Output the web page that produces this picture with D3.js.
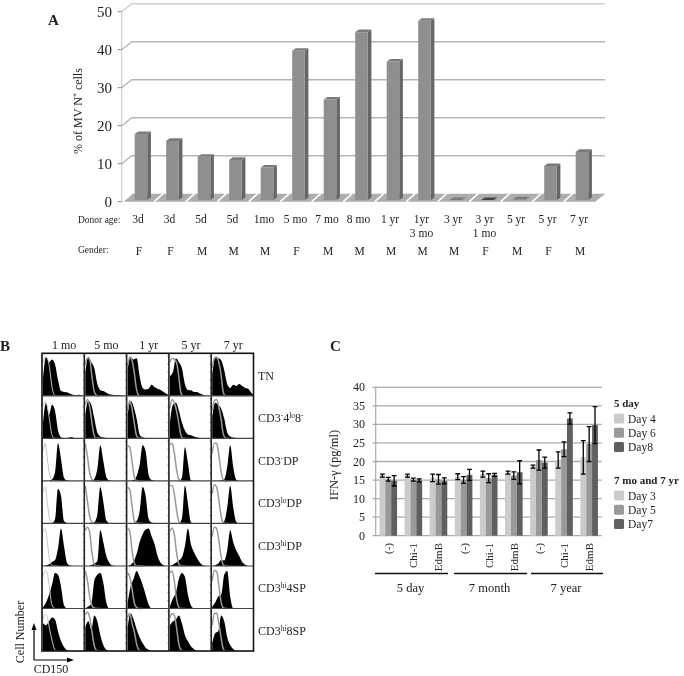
<!DOCTYPE html>
<html><head><meta charset="utf-8">
<script src="https://cdn.jsdelivr.net/npm/d3@7"></script>
<style>
html,body{margin:0;padding:0;background:#fff}
svg{display:block;filter:blur(.4px)}
text{font-family:"Liberation Serif",serif;fill:#222}
</style></head><body>
<svg id="c" width="684" height="676"></svg>
<script>
// Panel A
const donorAges=["3d","3d","5d","5d","1mo","5 mo","7 mo","8 mo","1 yr","1yr|3 mo","3 yr","3 yr|1 mo","5 yr","5 yr","7 yr"];
const genders=["F","F","M","M","M","F","M","M","M","M","M","F","M","F","M"];
const pctMVN=[17.8,16,11.8,11,9,39.7,26.9,44.6,36.9,47.6,0.25,0.1,0.6,9.4,13.1];
const pctTicks=[0,10,20,30,40,50];
// Panel B
const ageCols=["1 mo","5 mo","1 yr","5 yr","7 yr"];
const subsetRows=[["TN"],["CD3","-","4","lo","8","-"],["CD3","-","DP"],["CD3","lo","DP"],["CD3","hi","DP"],["CD3","hi","4SP"],["CD3","hi","8SP"]];
const histTN=[[45,98,85,92,80,40,12,10,9,5,3,2,3,1,0],[60,98,85,70,30,15,12,8,4,3,2,2,1,0,0],[70,98,92,95,50,20,16,18,28,22,18,15,10,5,0],[50,60,95,85,70,30,15,14,10,10,6,3,0,0,0],[55,95,95,90,65,30,20,28,25,30,25,20,18,8,0]];
const histLo=[[40,90,60,85,70,20,3,0,0,3,2,0,0,0,0],[60,95,85,50,15,5,2,1,0,0,0,0,0,0,0],[60,95,80,50,10,3,1,0,0,0,0,0,0,0,0],[40,85,90,70,40,20,10,8,5,3,1,0,0,0,0],[55,90,85,75,50,15,5,2,1,0,0,0,0,0,0]];
const histNeg=[[0,0,0,4,22,95,55,8,1,0,0,0,0,0,0],[0,0,0,5,30,90,50,10,1,0,0,0,0,0,0],[0,0,2,12,40,90,75,15,2,0,0,0,0,0,0],[0,0,0,0,8,85,45,1,0,0,0,0,0,0,0],[0,0,0,1,4,35,90,35,3,0,0,0,0,0,0]];
const histLoDP=[[0,0,0,1,10,88,70,6,1,0,0,0,0,0,0],[0,0,0,3,22,92,55,8,1,0,0,0,0,0,0],[0,0,1,6,30,92,70,12,2,0,0,0,0,0,0],[0,0,0,1,12,95,50,3,0,0,0,0,0,0,0],[0,0,0,0,5,40,95,40,4,0,0,0,0,0,0]];
const histHiDP=[[0,1,4,10,15,45,95,50,8,1,0,0,0,0,0],[0,0,2,6,12,90,60,25,8,1,0,0,0,0,0],[0,3,12,30,60,80,92,95,75,55,25,8,2,0,0],[0,3,8,14,22,50,95,55,35,20,8,2,0,0,0],[0,2,6,15,14,40,90,60,40,25,10,3,0,0,0]];
const hist4SP=[[3,15,35,60,90,85,55,8,0,0,0,0,0,0,0],[0,5,12,70,85,90,65,15,0,0,0,0,0,0,0],[15,55,75,95,80,60,35,10,0,0,0,0,0,0,0],[5,25,40,75,90,80,35,8,0,0,0,0,0,0,0],[5,15,30,35,85,95,30,0,0,0,0,0,0,0,0]];
const hist8SP=[[70,65,75,85,80,50,25,10,2,0,0,0,0,0,0],[60,75,55,90,75,40,15,3,0,0,0,0,0,0,0],[60,95,80,55,35,20,8,3,0,0,0,0,0,0,0],[65,75,80,90,70,40,25,12,5,0,0,0,0,0,0],[20,45,50,90,75,35,15,5,0,0,0,0,0,0,0]];
const filledRows=[histTN,histLo,histNeg,histLoDP,histHiDP,hist4SP,hist8SP];
const isoTN=[[85,98,95,70,25,4,0,0],[80,96,92,50,12,2,0,0],[75,98,90,60,18,2,0,0],[85,95,92,85,50,8,0,0],[70,96,98,85,55,10,0,0]];
const isoLo=[[80,95,80,45,10,1,0,0],[85,98,80,40,8,0,0,0],[70,95,75,40,8,0,0,0],[75,98,90,70,40,8,0,0],[70,95,98,80,50,12,1,0]];
const isoNeg=[[75,95,55,15,2,0,0,0],[95,60,20,4,0,0,0,0],[90,85,50,12,1,0,0,0],[92,95,70,30,5,0,0,0],[70,95,95,65,25,3,0,0]];
const isoLoDP=[[80,92,50,12,2,0,0,0],[95,55,18,3,0,0,0,0],[92,85,45,8,1,0,0,0],[95,96,75,35,6,0,0,0],[75,98,92,60,20,2,0,0]];
const isoHiDP=[[85,95,60,15,2,0,0,0],[90,98,85,35,6,0,0,0],[95,88,40,8,0,0,0,0],[88,96,80,35,6,0,0,0],[75,98,95,65,25,3,0,0]];
const iso4SP=[[80,96,88,50,10,1,0,0],[95,70,30,8,1,0,0,0],[90,80,50,15,3,0,0,0],[90,95,70,25,4,0,0,0],[70,96,94,60,18,2,0,0]];
const iso8SP=[[80,94,85,55,30,8,1,0],[92,98,85,50,15,2,0,0],[85,95,70,50,20,3,0,0],[85,95,90,60,20,3,0,0],[65,95,96,70,35,6,0,0]];
const isoRows=[isoTN,isoLo,isoNeg,isoLoDP,isoHiDP,iso4SP,iso8SP];
const freqTicks=[20,40,60,80,100];
// Panel C
const stimuli=["(-)","Chi-1","EdmB","(-)","Chi-1","EdmB","(-)","Chi-1","EdmB"];
const donorGroups=["5 day","7 month","7 year"];
const ifnEarly=[16.2,16.2,15.6,15.9,16.6,17,18.6,20.4,21.1];
const ifnMid=[15.2,15.1,15.2,15,15.5,16.2,20.4,23.3,24.7];
const ifnLate=[14.8,14.9,14.8,16.4,16.4,17.1,19.7,31.6,29.8];
const errEarly=[.4,.4,1,.8,.8,.4,.4,2.2,4.5];
const errMid=[.5,.4,1.3,.9,1.2,1,2.7,2,4.7];
const errLate=[1.4,.4,.8,1.5,.4,3.1,1.5,1.5,5];
const ifnTicks=[0,5,10,15,20,25,30,35,40];
const legend5d=["Day 4","Day 6","Day8"];
const legend7=["Day 3","Day 5","Day7"];
const dayColors=["#cbcbcb","#999999","#5f5f5f"];

const svg=d3.select("#c");
const T=(x,y,s,o={})=>{const t=svg.append("text").attr("x",x).attr("y",y).text(s)
  .attr("font-size",o.fs||11).attr("text-anchor",o.a||"start").attr("dominant-baseline","central");
  if(o.b)t.attr("font-weight","bold");if(o.r!=null)t.attr("transform",`rotate(${o.r} ${x} ${y})`);return t;};

/* ---------- A ---------- */
const ax=svg.append("g");
const yA=d3.scaleLinear().domain([0,50]).range([201.7,11.7]);
const xA=d3.scaleBand().domain(d3.range(pctMVN.length)).range([125.25,597.75]).paddingInner(.6).paddingOuter(.3);
const AL=121.7,DX=10,DY=8,AR=595;
ax.append("polygon").attr("points",[[AL,yA(0)],[AL+DX,yA(0)-DY],[AR+DX,yA(0)-DY],[AR,yA(0)]].join(" ")).attr("fill","#adadad");
pctTicks.forEach(v=>{
  if(v===0)return;
  ax.append("path").attr("d",`M${AL},${yA(v)}L${AL+DX},${yA(v)-DY}H${AR+DX}`).attr("fill","none")
    .attr("stroke",v===50?"#cfcfcf":"#b5b5b5").attr("stroke-width",1.4);
});
ax.append("line").attr("x1",AL).attr("x2",AL).attr("y1",yA(50)).attr("y2",yA(0)).attr("stroke","#c4c4c4");
pctMVN.forEach((v,i)=>{
  const x=xA(i)-9;
  ax.append("line").attr("x1",x-3).attr("y1",yA(0)).attr("x2",x+6).attr("y2",yA(0)-DY).attr("stroke","#fff").attr("stroke-width",1.6);
});
ax.append("line").attr("x1",AR+DX).attr("y1",yA(0)-DY).attr("x2",AR).attr("y2",yA(0)).attr("stroke","#c8c8c8");
const bw=xA.bandwidth(),dx=3.6,dy=2.6,off=1.6;
pctMVN.forEach((v,i)=>{
  const x=xA(i),t=yA(v),b=yA(0)-off;
  const top=Math.min(t,b);
  const g=ax.append("g");
  g.append("polygon").attr("points",[[x+bw,top],[x+bw+dx,top-dy],[x+bw+dx,b-dy],[x+bw,b]].join(" ")).attr("fill","#666");
  g.append("polygon").attr("points",[[x,top],[x+dx,top-dy],[x+bw+dx,top-dy],[x+bw,top]].join(" ")).attr("fill",v<.2?"#444":"#7a7a7a");
  if(b-top>0)g.append("rect").attr("x",x).attr("y",top).attr("width",bw).attr("height",b-top).attr("fill","#8f8f8f");
});
pctTicks.forEach(v=>{
  ax.append("line").attr("x1",AL-4).attr("x2",AL).attr("y1",yA(v)).attr("y2",yA(v)).attr("stroke","#888");
  T(112,yA(v),v,{fs:15,a:"end"});
});
T(48,20,"A",{fs:15,b:1});
T(77.5,111,"% of MV N⁺ cells",{fs:12,a:"middle",r:-90});
T(78,219.5,"Donor age:",{fs:9.5});T(78,249.5,"Gender:",{fs:9.5});
donorAges.forEach((s,i)=>{
  const c=xA(i)+bw/2-3,p=s.split("|");
  T(c,218.5,p[0],{fs:11.5,a:"middle"});
  if(p[1])T(c,233,p[1],{fs:11.5,a:"middle"});
});
genders.forEach((s,i)=>T(xA(i)+bw/2-2,250.5,s,{fs:11.5,a:"middle"}));

/* ---------- B ---------- */
const colX=d3.scaleBand().domain(d3.range(ageCols.length)).range([42,253.5]);
const rowY=d3.scaleBand().domain(d3.range(subsetRows.length)).range([353.3,651]);
const cw=colX.bandwidth(),ch=rowY.bandwidth();
const bg=svg.append("g");
T(0,346,"B",{fs:15,b:1});
ageCols.forEach((s,c)=>T(colX(c)+cw/2+1,345,s,{fs:12,a:"middle"}));
subsetRows.forEach((parts,r)=>{
  const t=T(258,rowY(r)+ch/2+1,"",{fs:12});
  parts.forEach((p,k)=>{
    const sup=["-","lo","hi"].includes(p);
    t.append("tspan").text(p).attr("font-size",sup?7.5:12).attr("dy",sup?-3:(k>0&&["-","lo","hi"].includes(parts[k-1])?3:0));
  });
});
subsetRows.forEach((_,r)=>ageCols.forEach((_,c)=>{
  const g=bg.append("g").attr("transform",`translate(${colX(c)},${rowY(r)})`);
  const xF=d3.scaleLinear().domain([0,14]).range([1,43]);
  const xI=d3.scaleLinear().domain([0,7]).range([1,16.4]);
  const yH=d3.scaleLinear().domain([0,100]).range([ch,3]);
  g.append("path").datum(filledRows[r][c])
    .attr("d",d3.area().x((d,i)=>xF(i)).y0(ch).y1(d=>yH(d)).curve(d3.curveMonotoneX)).attr("fill","#000");
  g.append("path").datum(isoRows[r][c])
    .attr("d",d3.line().x((d,i)=>xI(i)).y(d=>yH(d)).curve(d3.curveMonotoneX))
    .attr("fill","none").attr("stroke",c===0?"#c4c4c4":"#999").attr("stroke-width",c===0?1:1.5);
  if(c>0){
    g.selectAll("line.t").data(freqTicks).join("line").attr("x1",-1.5).attr("x2",0.5)
     .attr("y1",d=>yH(d)).attr("y2",d=>yH(d)).attr("stroke","#555").attr("stroke-width",.7);
  }
}));
colX.domain().forEach(c=>{if(c>0)bg.append("line").attr("x1",colX(c)).attr("x2",colX(c)).attr("y1",353.3).attr("y2",651).attr("stroke","#222").attr("stroke-width",1.6);});
rowY.domain().forEach(r=>{if(r>0)bg.append("line").attr("x1",42).attr("x2",253.5).attr("y1",rowY(r)).attr("y2",rowY(r)).attr("stroke","#444").attr("stroke-width",1.1);});
bg.append("rect").attr("x",42).attr("y",353.3).attr("width",211.5).attr("height",297.7).attr("fill","none").attr("stroke","#111").attr("stroke-width",1.6);
const arrows=bg.append("g");
arrows.append("path").attr("d","M34,660V628M72,660H34").attr("stroke","#000").attr("stroke-width",1.2).attr("fill","none");
arrows.append("path").attr("d","M34,623l-2.5,7h5zM74,660l-7,-2.5v5z").attr("fill","#000");
T(20,632,"Cell Number",{fs:12,a:"middle",r:-90});
T(51,669,"CD150",{fs:12,a:"middle"});

/* ---------- C ---------- */
const cg=svg.append("g");
const yC=d3.scaleLinear().domain([0,40]).range([535.7,387.3]);
const xC=d3.scaleBand().domain(d3.range(stimuli.length)).range([375.7,601.7]);
T(330,346,"C",{fs:15,b:1});
ifnTicks.forEach(v=>{
  cg.append("line").attr("x1",372.5).attr("x2",601.7).attr("y1",yC(v)).attr("y2",yC(v)).attr("stroke","#ababab").attr("stroke-width",1.3);
  T(365,yC(v),v,{fs:12,a:"end"});
});
cg.append("line").attr("x1",375.7).attr("x2",375.7).attr("y1",yC(40)).attr("y2",yC(0)).attr("stroke","#ababab").attr("stroke-width",1.2);
const series=[[ifnEarly,errEarly],[ifnMid,errMid],[ifnLate,errLate]];
const xS=d3.scaleBand().domain([0,1,2]).range([0,17.6]);
series.forEach(([vals],s)=>{
  cg.selectAll(null).data(vals).join("rect")
    .attr("x",(d,i)=>xC(i)+xC.bandwidth()/2-8.8+xS(s)).attr("width",xS.bandwidth())
    .attr("y",d=>yC(d)).attr("height",d=>yC(0)-yC(d)).attr("fill",dayColors[s]);
});
series.forEach(([vals,errs],s)=>{
  vals.forEach((v,i)=>{
    const cx=xC(i)+xC.bandwidth()/2-8.8+xS(s)+xS.bandwidth()/2,y0=yC(v-errs[i]),y1=yC(v+errs[i]);
    cg.append("path").attr("d",`M${cx},${y0}V${y1}M${cx-2.4},${y0}h4.8M${cx-2.4},${y1}h4.8`)
      .attr("stroke","#000").attr("stroke-width",1.3).attr("fill","none");
  });
});
stimuli.forEach((s,i)=>T(xC(i)+xC.bandwidth()/2,543,s,{fs:11,a:"end",r:-90}));
const groupSpan=[[375,448],[454,527],[531,603]];
donorGroups.forEach((s,i)=>{
  cg.append("line").attr("x1",groupSpan[i][0]).attr("x2",groupSpan[i][1]).attr("y1",573.5).attr("y2",573.5).attr("stroke","#111").attr("stroke-width",1.5);
  T((groupSpan[i][0]+groupSpan[i][1])/2-1,588,s,{fs:12.5,a:"middle"});
});
T(334,465,"IFN-γ (pg/ml)",{fs:12.5,a:"middle",r:-90});
const legendBlock=(title,names,y)=>{
  T(614,y,title,{fs:11,b:1});
  names.forEach((n,i)=>{
    const yy=y+15.5+i*14.3;
    cg.append("rect").attr("x",614).attr("y",yy-5).attr("width",10).attr("height",10).attr("rx",1.5).attr("fill",dayColors[i]);
    T(628,yy,n,{fs:11.5});
  });
};
legendBlock("5 day",legend5d,403);
legendBlock("7 mo and 7 yr",legend7,480);
</script>
</body></html>
